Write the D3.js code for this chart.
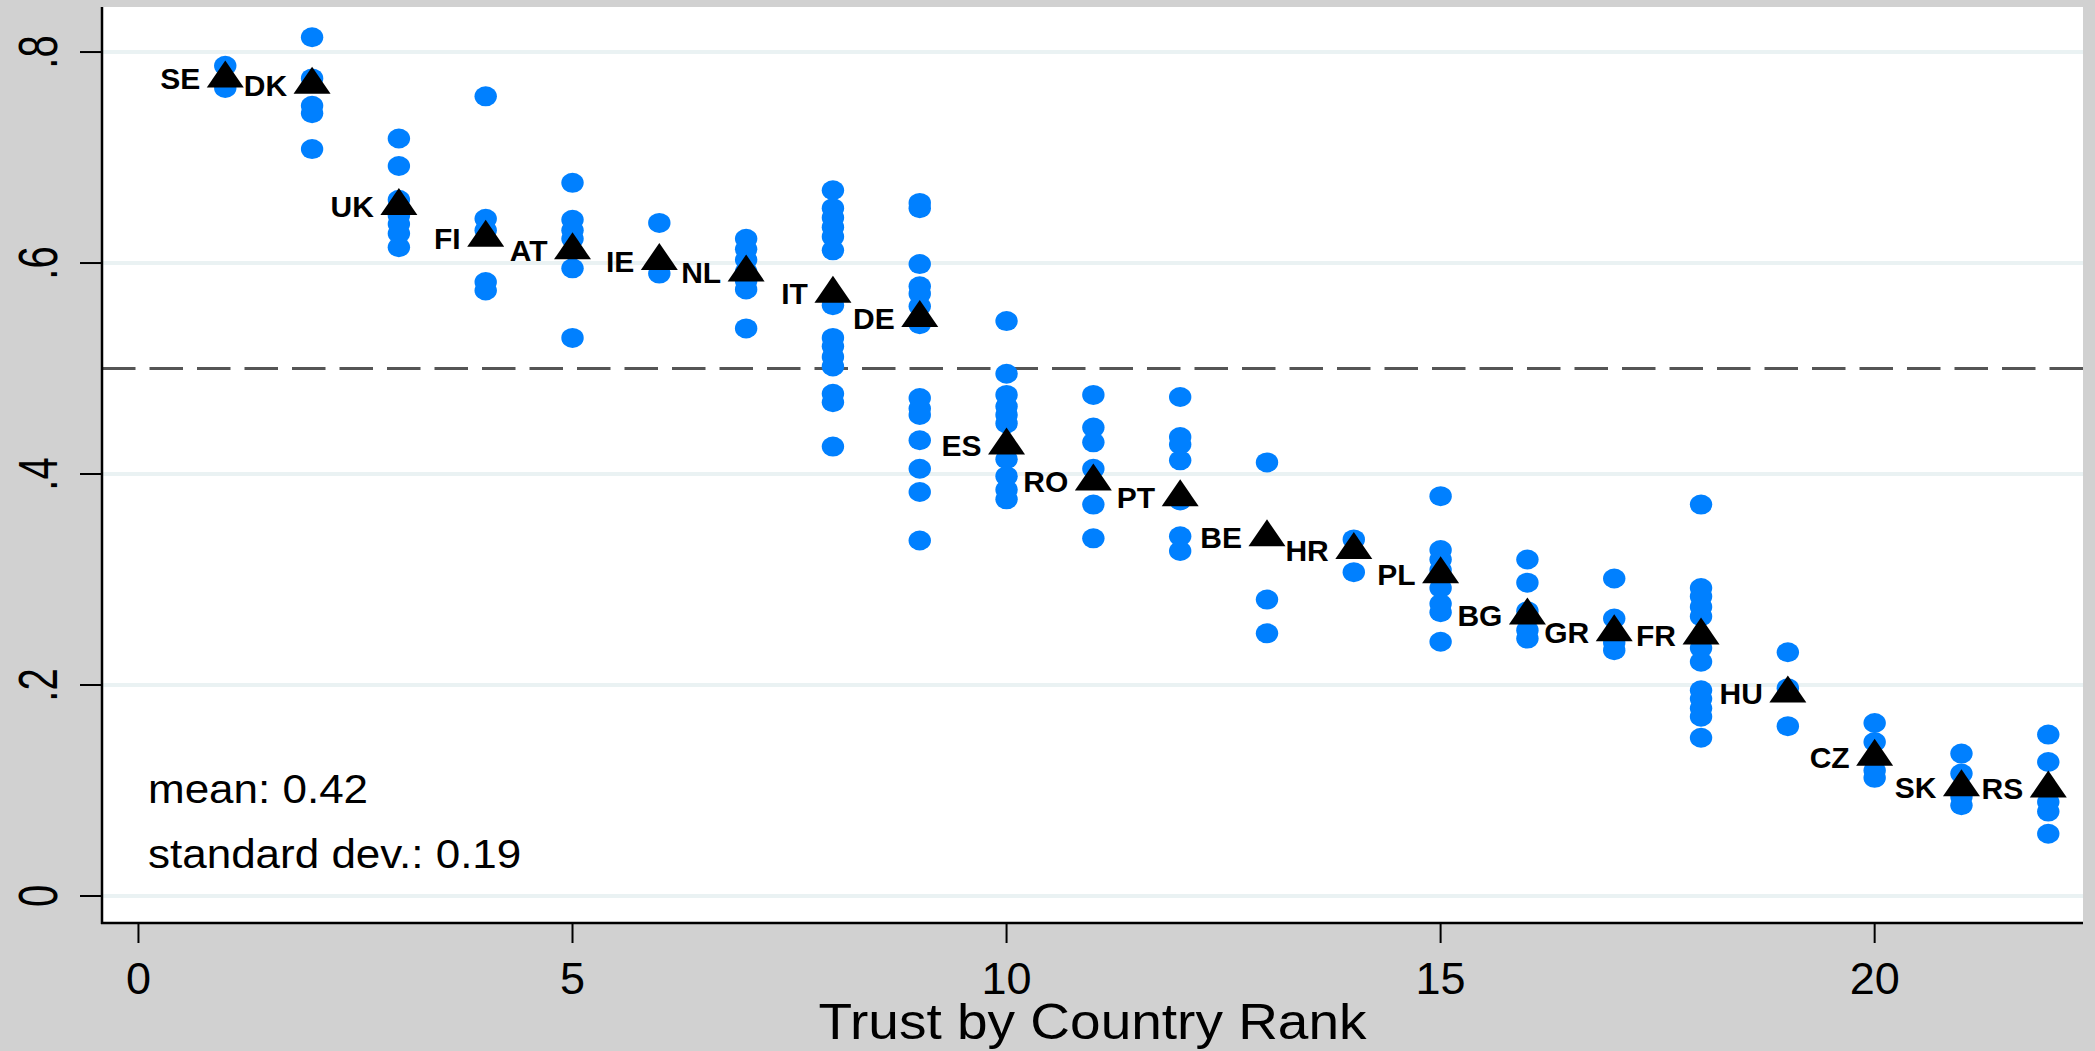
<!DOCTYPE html>
<html>
<head>
<meta charset="utf-8">
<script src="https://cdn.jsdelivr.net/npm/d3@7"></script>
<style>
  body { margin: 0; background: #d1d1d1; }
  svg { display: block; }
  text { font-family: "Liberation Sans", Arial, sans-serif; }
</style>
</head>
<body>
<svg id="canvas"></svg>
<script>
var width = 2095,
    height = 1051,
    plot = {left: 102, right: 2083, top: 7, bottom: 923},
    stretch = 1.1;   // the reference text is drawn a little wide

// country codes in rank order (rank 1 .. 22)
var countries = ['SE', 'DK', 'UK', 'FI', 'AT', 'IE', 'NL', 'IT', 'DE', 'ES', 'RO',
                 'PT', 'BE', 'HR', 'PL', 'BG', 'GR', 'FR', 'HU', 'CZ', 'SK', 'RS'];

// country level trust (triangles)
var countryMeans = [0.775, 0.769, 0.654, 0.624, 0.612, 0.602, 0.591, 0.571, 0.548, 0.427, 0.393,
                    0.378, 0.340, 0.328, 0.305, 0.266, 0.250, 0.247, 0.192, 0.132, 0.103, 0.102];

// item level values per country (blue dots)
var itemValues = [
  [0.787, 0.766],
  [0.814, 0.775, 0.749, 0.742, 0.708],
  [0.718, 0.692, 0.660, 0.645, 0.637, 0.628, 0.615],
  [0.758, 0.642, 0.631, 0.582, 0.574],
  [0.676, 0.641, 0.631, 0.623, 0.595, 0.529],
  [0.638, 0.598, 0.590],
  [0.623, 0.613, 0.603, 0.592, 0.583, 0.575, 0.538],
  [0.669, 0.652, 0.643, 0.634, 0.625, 0.612, 0.560, 0.529, 0.521, 0.511, 0.502, 0.476, 0.468, 0.426],
  [0.657, 0.652, 0.599, 0.578, 0.571, 0.559, 0.542, 0.472, 0.462, 0.456, 0.432, 0.405, 0.383, 0.337],
  [0.545, 0.495, 0.475, 0.464, 0.456, 0.448, 0.414, 0.398, 0.385, 0.376],
  [0.475, 0.444, 0.430, 0.405, 0.371, 0.339],
  [0.473, 0.435, 0.428, 0.413, 0.375, 0.341, 0.327],
  [0.411, 0.281, 0.249],
  [0.338, 0.307],
  [0.379, 0.328, 0.319, 0.309, 0.292, 0.277, 0.269, 0.241],
  [0.319, 0.297, 0.270, 0.252, 0.244],
  [0.301, 0.263, 0.240, 0.233],
  [0.371, 0.292, 0.284, 0.274, 0.265, 0.235, 0.222, 0.195, 0.187, 0.178, 0.170, 0.150],
  [0.231, 0.197, 0.161],
  [0.164, 0.146, 0.129, 0.119, 0.112],
  [0.135, 0.116, 0.094, 0.086],
  [0.153, 0.127, 0.089, 0.080, 0.059]
];

var xTicks = [0, 5, 10, 15, 20];
var yTicks = [0, 0.2, 0.4, 0.6, 0.8];
var yTickLabels = ['0', '.2', '.4', '.6', '.8'];
var referenceLine = 0.5;
var statsText = ['mean: 0.42', 'standard dev.: 0.19'];
var xTitle = 'Trust by Country Rank';


function draw() {
  var svg, x, y, g, points;

  svg = d3.select('#canvas')
    .attr('width', width)
    .attr('height', height);

  svg.append('rect')
    .attr('width', width)
    .attr('height', height)
    .attr('fill', '#d1d1d1');

  svg.append('rect')
    .attr('x', plot.left)
    .attr('y', plot.top)
    .attr('width', plot.right - plot.left)
    .attr('height', plot.bottom - plot.top)
    .attr('fill', '#fff');

  x = d3.scaleLinear().domain([-0.42, 22.4]).range([plot.left, plot.right]);
  y = d3.scaleLinear().domain([-0.0256, 0.8427]).range([plot.bottom, plot.top]);

  // GRID
  svg.append('g')
    .selectAll('line')
    .data(yTicks)
    .enter()
    .append('line')
    .attr('x1', plot.left)
    .attr('x2', plot.right)
    .attr('y1', y)
    .attr('y2', y)
    .attr('stroke', '#eaf2f3')
    .attr('stroke-width', 4);

  // DASHED 0.5 LINE
  svg.append('line')
    .attr('x1', plot.left)
    .attr('x2', plot.right)
    .attr('y1', y(referenceLine))
    .attr('y2', y(referenceLine))
    .attr('stroke', '#555')
    .attr('stroke-width', 3)
    .attr('stroke-dasharray', '33.5 14');

  // DOTS
  points = [];
  itemValues.forEach(function(vals, i) {
    vals.forEach(function(v) { points.push({rank: i + 1, value: v}); });
  });

  svg.append('g')
    .selectAll('ellipse')
    .data(points)
    .enter()
    .append('ellipse')
    .attr('cx', function(d) { return x(d.rank); })
    .attr('cy', function(d) { return y(d.value); })
    .attr('rx', 11.2)
    .attr('ry', 10)
    .attr('fill', '#0080ff');

  // TRIANGLES + COUNTRY LABELS
  g = svg.append('g')
    .selectAll('g')
    .data(countries)
    .enter()
    .append('g')
    .attr('transform', function(d, i) {
      return 'translate(' + x(i + 1) + ',' + y(countryMeans[i]) + ')';
    });

  g.append('path')
    .attr('d', 'M0 -18 L18.5 9 L-18.5 9 Z')
    .attr('fill', '#000');

  g.append('text')
    .attr('x', -25)
    .attr('dy', '0.36em')
    .attr('text-anchor', 'end')
    .style('font-size', '30px')
    .style('font-weight', 'bold')
    .attr('fill', '#000')
    .text(function(d) { return d; });

  // AXES
  svg.append('line')
    .attr('x1', plot.left).attr('x2', plot.left)
    .attr('y1', plot.top).attr('y2', plot.bottom + 1)
    .attr('stroke', '#000').attr('stroke-width', 2.5);

  svg.append('line')
    .attr('x1', plot.left - 1).attr('x2', plot.right)
    .attr('y1', plot.bottom).attr('y2', plot.bottom)
    .attr('stroke', '#000').attr('stroke-width', 2.5);

  // y ticks
  svg.append('g')
    .selectAll('line')
    .data(yTicks)
    .enter()
    .append('line')
    .attr('x1', plot.left - 22)
    .attr('x2', plot.left)
    .attr('y1', y)
    .attr('y2', y)
    .attr('stroke', '#000')
    .attr('stroke-width', 2);

  svg.append('g')
    .selectAll('text')
    .data(yTicks)
    .enter()
    .append('text')
    .attr('transform', function(d) {
      return 'translate(57,' + y(d) + ') rotate(-90) scale(1,1.4)';
    })
    .attr('text-anchor', 'middle')
    .style('font-size', '40px')
    .attr('fill', '#000')
    .text(function(d, i) { return yTickLabels[i]; });

  // x ticks
  svg.append('g')
    .selectAll('line')
    .data(xTicks)
    .enter()
    .append('line')
    .attr('x1', x)
    .attr('x2', x)
    .attr('y1', plot.bottom)
    .attr('y2', plot.bottom + 20)
    .attr('stroke', '#000')
    .attr('stroke-width', 2);

  svg.append('g')
    .selectAll('text')
    .data(xTicks)
    .enter()
    .append('text')
    .attr('x', x)
    .attr('y', 994)
    .attr('text-anchor', 'middle')
    .style('font-size', '45px')
    .attr('fill', '#000')
    .text(function(d) { return d; });

  svg.append('text')
    .attr('transform', 'translate(' + ((plot.left + plot.right) / 2) + ',1039) scale(' + stretch + ',1)')
    .attr('text-anchor', 'middle')
    .style('font-size', '50px')
    .attr('fill', '#000')
    .text(xTitle);

  // STATS
  svg.append('g')
    .selectAll('text')
    .data(statsText)
    .enter()
    .append('text')
    .attr('transform', function(d, i) {
      return 'translate(148,' + (803 + i * 65) + ') scale(' + stretch + ',1)';
    })
    .style('font-size', '40px')
    .attr('fill', '#000')
    .text(function(d) { return d; });
}

window.onload = draw;
</script>
</body>
</html>
